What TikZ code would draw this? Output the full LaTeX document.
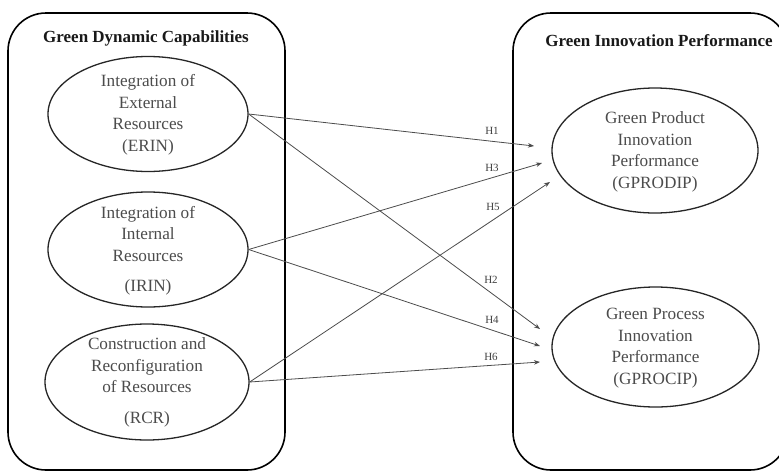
\documentclass[tikz,border=0pt]{standalone}
\usepackage{fontspec}
\setmainfont{Liberation Serif}
\usetikzlibrary{shapes.geometric,arrows.meta}
\tikzset{
  grpbox/.style={draw=black,line width=1.6pt,rounded corners=38pt},
  ell/.style={draw=black!85,line width=1.3pt,ellipse,inner sep=0pt},
  etxt/.style={text=black!70,align=center,font=\fontsize{17.2}{21.5}\selectfont,inner sep=0pt},
  ttl/.style={font=\fontsize{17}{20}\selectfont\bfseries,text=black!90},
  conn/.style={draw=black!70,line width=0.8pt,-{Stealth[length=6pt,width=4.5pt]}},
  hlab/.style={font=\fontsize{11}{12}\selectfont,text=black!75}
}
\begin{document}
\begin{tikzpicture}[x=1pt,y=-1pt]
\useasboundingbox (0,0) rectangle (779,472);
\clip (0,0) rectangle (779,472);
\fill[white] (0,0) rectangle (779,472);
% group boxes
\draw[grpbox] (8,13) rectangle (285,470);
\draw[grpbox] (513,13) rectangle (788,470);
\node[ttl] (t1) at (146,38) {Green Dynamic Capabilities};
\node[ttl] (t2) at (659,41) {Green Innovation Performance};
% ellipses
\node[ell,minimum width=200pt,minimum height=115pt] (erin) at (148,114) {};
\node[etxt] (erintxt) at (148,115) {Integration of\\External\\Resources\\(ERIN)};
\node[ell,minimum width=200pt,minimum height=115pt] (irin) at (148,249.5) {};
\node[etxt] (irintxt) at (148,251) {Integration of\\Internal\\Resources\\[9pt](IRIN)};
\node[ell,minimum width=204pt,minimum height=116pt] (rcr) at (147,382) {};
\node[etxt] (rcrtxt) at (147,382.5) {Construction and\\Reconfiguration\\of Resources\\[9pt](RCR)};
\node[ell,minimum width=206pt,minimum height=125pt] (gprod) at (655,150.5) {};
\node[etxt] (gprodtxt) at (655,152) {Green Product\\Innovation\\Performance\\(GPRODIP)};
\node[ell,minimum width=207pt,minimum height=120pt] (gproc) at (655.5,347) {};
\node[etxt] (gproctxt) at (655.5,348) {Green Process\\Innovation\\Performance\\(GPROCIP)};
% arrow ends
\coordinate (e1) at (534,146);
\coordinate (e3) at (542,163);
\coordinate (e5) at (550,182);
\coordinate (e2) at (540,329);
\coordinate (e4) at (540,346);
\coordinate (e6) at (540,362);
% connectors
\draw[conn] (erin.east) -- (e1);
\draw[conn] (erin.east) -- (e2);
\draw[conn] (irin.east) -- (e3);
\draw[conn] (irin.east) -- (e4);
\draw[conn] (rcr.east) -- (e5);
\draw[conn] (rcr.east) -- (e6);
% labels
\node[hlab] (h1) at (492,131) {H1};
\node[hlab] (h3) at (492,168) {H3};
\node[hlab] (h5) at (493,207) {H5};
\node[hlab] (h2) at (491,280) {H2};
\node[hlab] (h4) at (492,320) {H4};
\node[hlab] (h6) at (491,357) {H6};
\end{tikzpicture}
\end{document}
